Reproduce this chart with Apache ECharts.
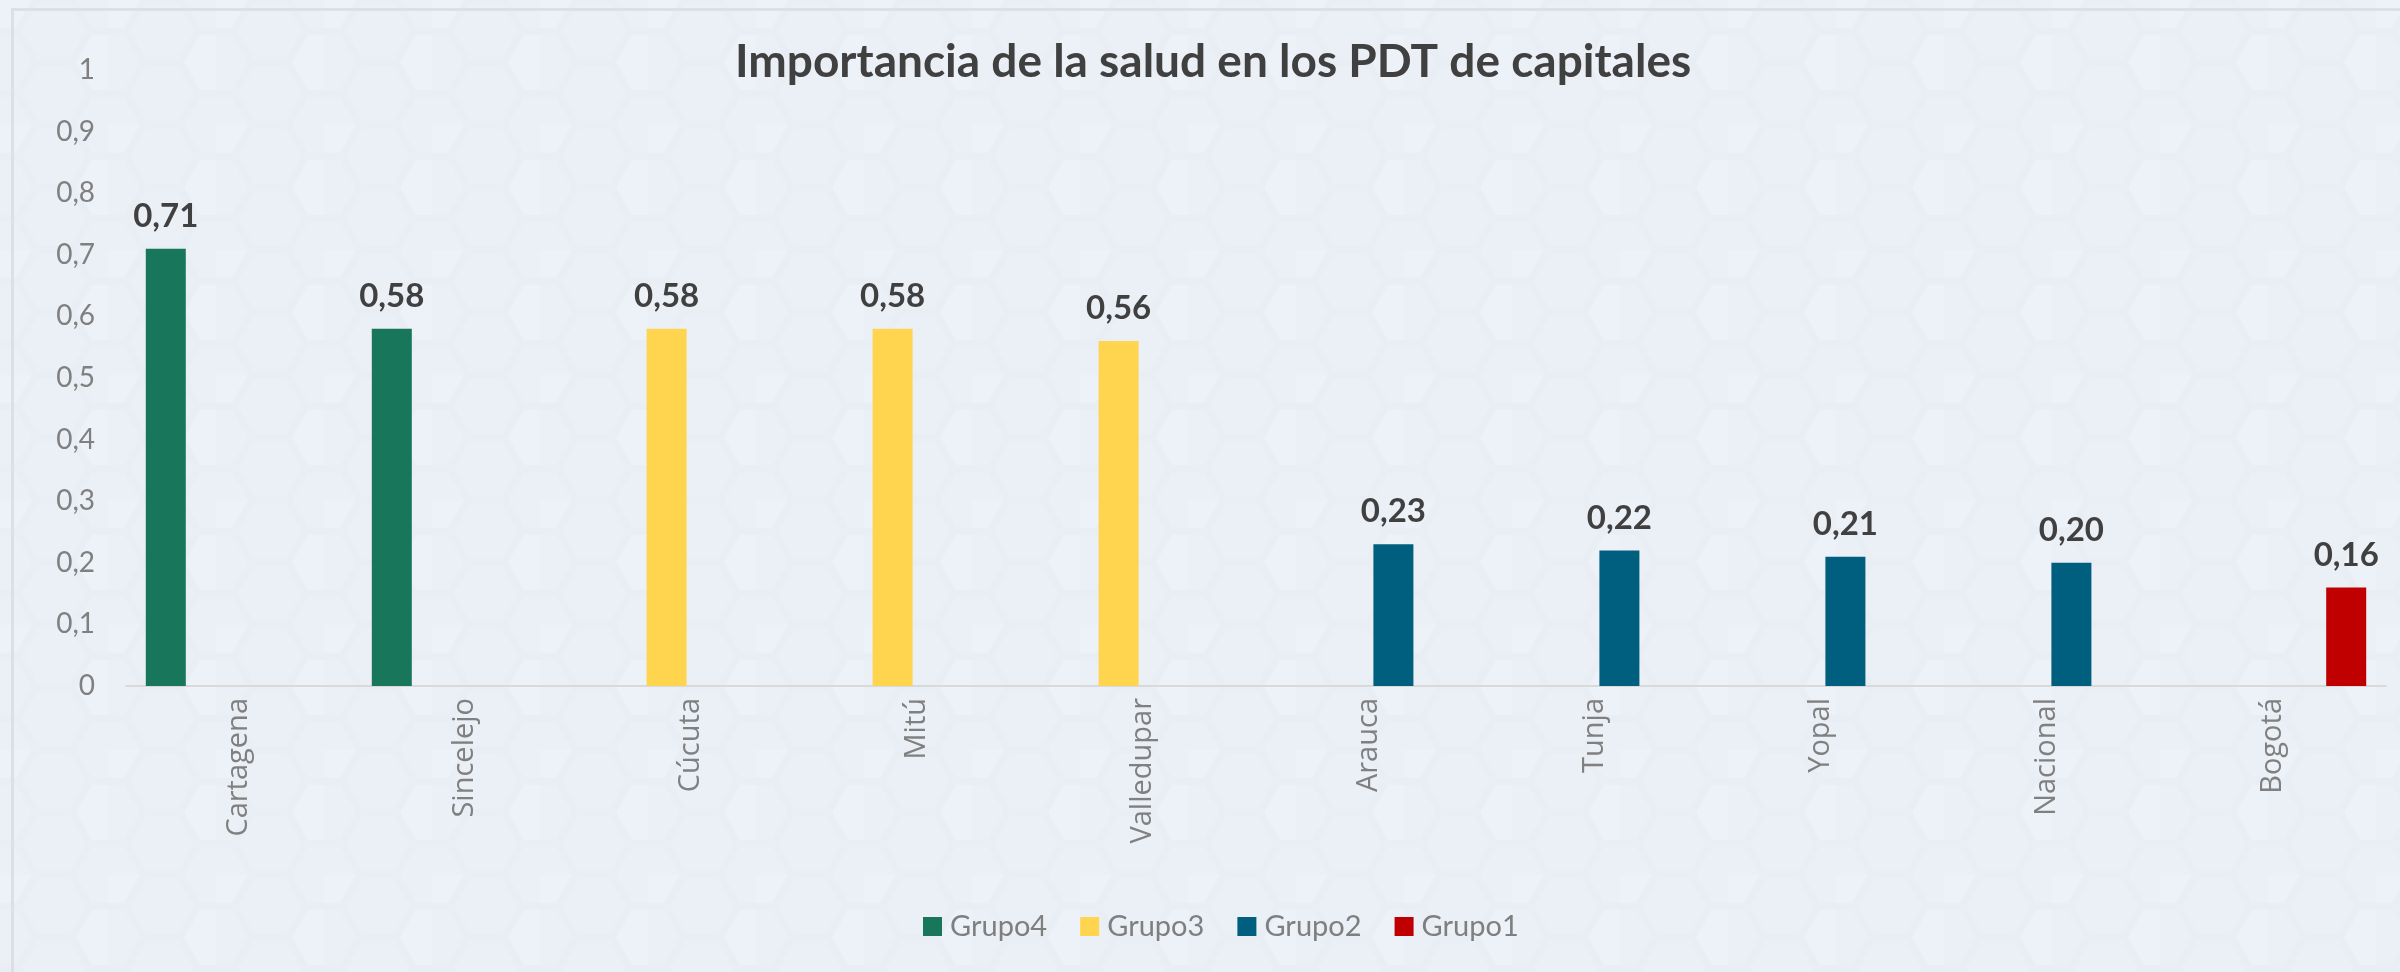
<!DOCTYPE html>
<html>
<head>
<meta charset="utf-8">
<script src="https://cdn.jsdelivr.net/npm/echarts@6/dist/echarts.min.js"></script>
<style>
html,body{margin:0;padding:0;background:#eef2f8;}
#chart{width:2400px;height:972px;}
</style>
</head>
<body>
<div id="chart"></div>
<script>
const titleText = 'Importancia de la salud en los PDT de capitales';
const categories = ['Cartagena','Sincelejo','Cúcuta','Mitú','Valledupar','Arauca','Tunja','Yopal','Nacional','Bogotá'];
const grupo4 = [0.71, 0.58, null, null, null, null, null, null, null, null];
const grupo3 = [null, null, 0.58, 0.58, 0.56, null, null, null, null, null];
const grupo2 = [null, null, null, null, null, 0.23, 0.22, 0.21, 0.20, null];
const grupo1 = [null, null, null, null, null, null, null, null, null, 0.16];
const seriesNames = ['Grupo4','Grupo3','Grupo2','Grupo1'];
const yTicks = [0, 0.1, 0.2, 0.3, 0.4, 0.5, 0.6, 0.7, 0.8, 0.9, 1];

// subtle hexagon background pattern
function makePattern(){
  const r = 36;
  const w = 3 * r, h = Math.sqrt(3) * r;
  const c = document.createElement('canvas');
  c.width = Math.round(w); c.height = Math.round(h * 2);
  const ctx = c.getContext('2d');
  ctx.fillStyle = '#e9edf4';
  ctx.fillRect(0,0,c.width,c.height);
  function hex(cx, cy, fill){
    ctx.beginPath();
    for(let i=0;i<6;i++){
      const a = Math.PI/3*i;
      const x = cx + (r-4)*Math.cos(a), y = cy + (r-4)*Math.sin(a);
      if(i===0) ctx.moveTo(x,y); else ctx.lineTo(x,y);
    }
    ctx.closePath();
    ctx.fillStyle = fill; ctx.fill();
  }
  for(let row=-1; row<=2; row++){
    for(let col=-1; col<=3; col++){
      const cx = col*1.5*r;
      const cy = row*h + (Math.abs(col)%2===1 ? h/2 : 0);
      hex(cx, cy, ((row+col)%3===0) ? '#edf1f8' : '#ebeff6');
    }
  }
  return c;
}

const chart = echarts.init(document.getElementById('chart'), null, {renderer:'canvas'});
const colors = ['#18765a','#ffd54f','#005e7e','#c00000'];
const dataArrays = [grupo4, grupo3, grupo2, grupo1];

const fmt = v => (v === 0 || v === 1) ? String(v) : String(Math.round(v*10)/10).replace('.', ',');

chart.setOption({
  backgroundColor: {image: makePattern(), repeat: 'repeat'},
  animation: false,
  color: colors,
  textStyle: {fontFamily: 'Lato'},
  title: {
    text: titleText,
    left: 730,
    top: 34,
    textStyle: {fontFamily: 'Lato', fontWeight: 'bold', fontSize: 46, color: '#404040'}
  },
  legend: {
    data: seriesNames,
    bottom: 26,
    left: 918,
    itemWidth: 19,
    itemHeight: 19,
    itemGap: 33,
    icon: 'rect',
    textStyle: {fontFamily: 'Lato', fontSize: 29, color: '#7f7f7f', padding: [0,0,0,3]}
  },
  grid: {left: 126, right: 14, top: 70, bottom: 286, containLabel: false},
  xAxis: {
    type: 'category',
    data: categories,
    axisLine: {lineStyle: {color: '#d9d9d9', width: 2}},
    axisTick: {show: false},
    axisLabel: {rotate: 90, fontFamily: 'Open Sans', fontSize: 29, color: '#808080', margin: 12}
  },
  yAxis: {
    type: 'value',
    min: 0, max: 1, interval: 0.1,
    axisLine: {show: false},
    axisTick: {show: false},
    splitLine: {show: false},
    axisLabel: {fontFamily: 'Lato', fontSize: 28, color: '#808080', margin: 31, formatter: fmt}
  },
  graphic: [{
    type: 'rect', left: 11, top: 8, silent: true, z: -1,
    shape: {width: 2420, height: 1000},
    style: {fill: 'transparent', stroke: '#dcdfe4', lineWidth: 3}
  }],
  series: seriesNames.map((n, i) => ({
    name: n,
    type: 'bar',
    data: dataArrays[i],
    barWidth: 40,
    barGap: '22%',
    itemStyle: {color: colors[i]},
    label: {
      show: true, position: 'top', distance: 16,
      fontFamily: 'Lato', fontWeight: 'bold', fontSize: 33, color: '#404040',
      formatter: p => p.value == null ? '' : p.value.toFixed(2).replace('.', ',')
    }
  }))
});
</script>
</body>
</html>
